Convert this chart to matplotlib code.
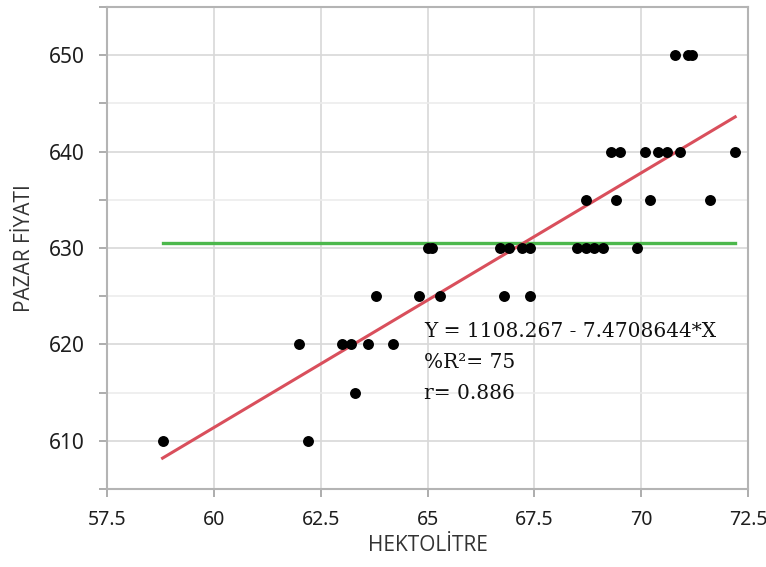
import matplotlib.pyplot as plt
import numpy as np
from matplotlib.ticker import MultipleLocator, FormatStrFormatter

# Değerler
hektolitre = [58.8, 62.0, 62.2, 63.0, 63.2, 63.3, 63.6, 63.8, 64.2, 64.8,
              65.0, 65.1, 65.3, 66.7, 66.9, 67.2, 67.4, 66.8, 67.4,
              68.5, 68.7, 68.9, 69.1, 69.9,
              68.7, 69.4, 70.2, 71.6,
              69.3, 69.5, 70.1, 70.4, 70.6, 70.9, 72.2,
              70.8, 71.1, 71.2]
pazar_fiyati = [610, 620, 610, 620, 620, 615, 620, 625, 620, 625,
                630, 630, 625, 630, 630, 630, 630, 625, 625,
                630, 630, 630, 630, 630,
                635, 635, 635, 635,
                640, 640, 640, 640, 640, 640, 640,
                650, 650, 650]

# Regresyon doğrusu (grafikten okunan uç noktalar)
fit_x = [58.8, 72.2]
fit_y = [608.2, 643.6]

denklem = ["Y = 1108.267 - 7.4708644*X", "%R\u00b2= 75", "r= 0.886"]

x = np.array(hektolitre)
y = np.array(pazar_fiyati)

fig = plt.figure(figsize=(7.66, 5.67), dpi=100)
ax = fig.add_axes([0.1397, 0.1376, 0.8368, 0.8501])

ax.set_xlim(57.5, 72.5)
ax.set_ylim(605, 655)
ax.xaxis.set_major_locator(MultipleLocator(2.5))
ax.xaxis.set_major_formatter(FormatStrFormatter('%g'))
ax.yaxis.set_major_locator(MultipleLocator(10))
ax.yaxis.set_minor_locator(MultipleLocator(5))

ax.grid(True, which='major', color='#d8d8d8', lw=1.2)
ax.grid(True, which='minor', axis='y', color='#ececec', lw=1.2)
ax.set_axisbelow(True)

for s in ax.spines.values():
    s.set_color('#b4b4b4')
    s.set_linewidth(1.5)

ax.tick_params(which='both', direction='out', length=6, width=1.2,
               color='#a0a0a0', labelsize=15, labelcolor='#1e1e1e')
ax.tick_params(axis='y', pad=10)
ax.tick_params(axis='x', pad=9, labelsize=14)
for lab in ax.get_xticklabels() + ax.get_yticklabels():
    lab.set_family('Noto Sans')

ax.plot([x.min(), x.max()], [y.mean(), y.mean()], color='#4cb84c', lw=2.4, zorder=2)
ax.plot(fit_x, fit_y, color='#d94f5c', lw=2.2, zorder=2)
ax.scatter(x, y, s=62, color='black', zorder=3, linewidths=0)

for i, t in enumerate(denklem):
    ax.text(64.92, 621.3 - i * 3.2, t, family='DejaVu Serif', fontsize=14.5,
            color='#111111', va='center', ha='left')

ax.set_xlabel("HEKTOLİTRE", fontsize=15, color='#333333', family='Open Sans', labelpad=4)
ax.set_ylabel("PAZAR FİYATI", fontsize=15, color='#333333', family='Open Sans', labelpad=10)

fig.savefig("out.png", dpi=100)
